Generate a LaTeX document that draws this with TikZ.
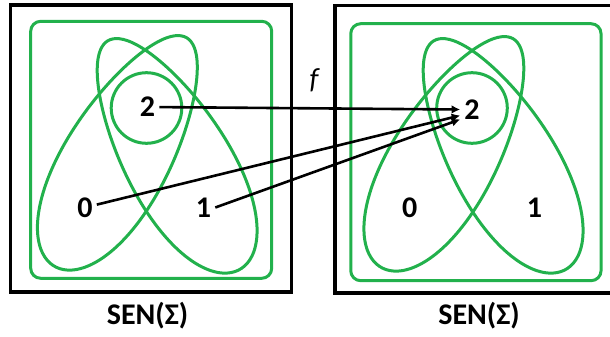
\documentclass[tikz,border=0pt]{standalone}
\usepackage{fontspec}
\setmainfont{Carlito}
\usetikzlibrary{arrows.meta,shapes.geometric}
\definecolor{setgreen}{RGB}{34,177,76}
% egg shaped lobe, broad end towards -x
\newcommand{\lobepath}{plot[domain=0:360,samples=100,smooth cycle] ({132*cos(\x)},{52*sin(\x)*(1-0.15*cos(\x))})}

\begin{document}
\begin{tikzpicture}[x=1pt,y=-1pt,>={Latex[length=8.5pt,width=8.5pt]},
  setframe/.style={draw=black,line width=3.6pt,minimum width=281pt,minimum height=287pt,inner sep=0pt},
  universe/.style={draw=setgreen,line width=3pt,rounded corners=10pt,minimum height=257pt,inner sep=0pt},
  lobe/.style={draw=setgreen,line width=3pt},
  innerset/.style={draw=setgreen,line width=3pt,circle,minimum size=70.6pt,inner sep=0pt},
  elem/.style={font=\fontsize{30}{36}\selectfont\bfseries,inner sep=4pt},
  setname/.style={font=\fontsize{30}{36}\selectfont\bfseries,inner sep=0pt}]
\useasboundingbox (0,0) rectangle (610,337);
\clip (0,0) rectangle (610,337);
% left copy
\node[setframe] (lbox) at (151,148.5) {};
\node[universe,minimum width=241pt] (luniv) at (151.2,149.8) {};
\draw[lobe,shift={(120.5,152)},rotate=60] \lobepath;
\draw[lobe,shift={(174,155)},rotate=120] \lobepath;
\node[innerset] (lcirc) at (146.5,108) {};
\node[elem] (l2) at (147.5,107) {2};
\node[elem] (l0) at (85,207.5) {0};
\node[elem] (l1) at (203.5,207.5) {1};
\node[setname] (lname) at (147.5,316) {SEN(Σ)};
% right copy
\node[setframe] (rbox) at (475.5,149.2) {};
\node[universe,minimum width=250.3pt] (runiv) at (475.9,152.2) {};
\draw[lobe,shift={(447,153)},rotate=60] \lobepath;
\draw[lobe,shift={(500,155)},rotate=120] \lobepath;
\node[innerset] (rcirc) at (472,108) {};
\node[elem] (r2) at (472,109.5) {2};
\node[elem] (r0) at (409.7,207.5) {0};
\node[elem] (r1) at (534.5,207.5) {1};
\node[setname] (rname) at (479,316) {SEN(Σ)};
% the map
\node[font=\fontsize{29}{34}\selectfont\itshape] (fname) at (314,80) {f};
\draw[->,line width=2.6pt] (l2) -- (r2.west);
\draw[->,line width=2.6pt] (l0) -- (r2.207);
\draw[->,line width=2.6pt] (l1.east) -- (r2.220);
\end{tikzpicture}
\end{document}
